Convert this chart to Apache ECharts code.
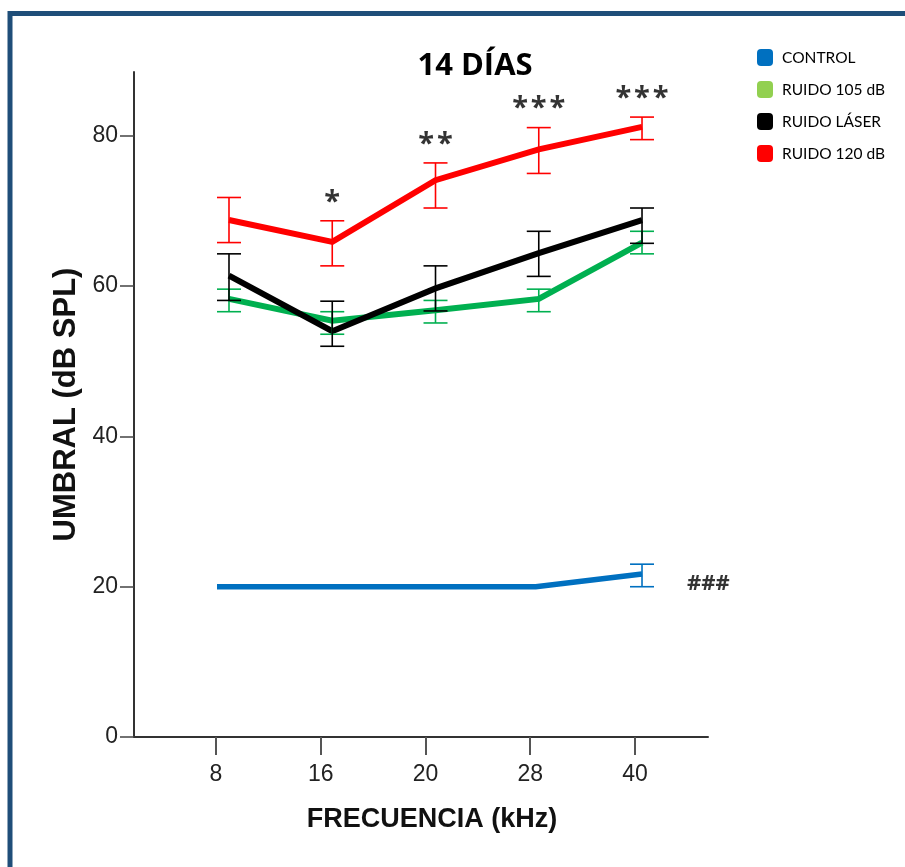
<!DOCTYPE html>
<html>
<head>
<meta charset="utf-8">
<script src="https://cdn.jsdelivr.net/npm/echarts@6/dist/echarts.min.js"></script>
<style>
html,body{margin:0;padding:0;background:#fff;}
#c{width:905px;height:867px;}
</style>
</head>
<body>
<div id="c"></div>
<script>
// ---- data ----
const freqs = ['8', '16', '20', '28', '40'];
const yTicks = [0, 20, 40, 60, 80];

const controlMean = [20.0, 20.0, 20.0, 20.0, 21.7];
const controlHi   = [null, null, null, null, 23.0];
const controlLo   = [null, null, null, null, 20.0];

const r105Mean = [58.3, 55.4, 56.8, 58.3, 65.8];
const r105Hi   = [59.6, 56.6, 58.1, 59.6, 67.3];
const r105Lo   = [56.6, 53.6, 55.1, 56.6, 64.3];

const laserMean = [61.4, 54.0, 59.7, 64.4, 68.8];
const laserHi   = [64.3, 58.0, 62.7, 67.3, 70.4];
const laserLo   = [58.1, 52.0, 56.7, 61.3, 65.7];

const r120Mean = [68.8, 65.9, 74.1, 78.2, 81.2];
const r120Hi   = [71.8, 68.7, 76.4, 81.1, 82.5];
const r120Lo   = [65.8, 62.7, 70.4, 75.0, 79.5];

const sigLabels = ['', '*', '**', '***', '***'];
const controlSig = ['', '', '', '', '###'];

const names = ['CONTROL', 'RUIDO 105 dB', 'RUIDO LÁSER', 'RUIDO 120 dB'];

// ---- build ----
const idx = freqs.map((f, i) => i);
const spaced = s => s.split('').join('\u200A');
function pts(arr) { return arr.map((v, i) => [i, v]); }
function errData(hi, lo) {
  const out = [];
  hi.forEach((h, i) => { if (h != null && lo[i] != null) out.push([i, lo[i], h]); });
  return out;
}
function errSeries(name, hi, lo, color, z, xi) {
  return {
    type: 'custom', name: name + '_err', z: z, xAxisIndex: xi,
    renderItem: function (params, api) {
      const x = api.value(0);
      const p1 = api.coord([x, api.value(1)]);
      const p2 = api.coord([x, api.value(2)]);
      const hw = 12;
      const st = { stroke: color, lineWidth: 1.6 };
      return { type: 'group', children: [
        { type: 'line', shape: { x1: p1[0], y1: p1[1], x2: p2[0], y2: p2[1] }, style: st },
        { type: 'line', shape: { x1: p1[0] - hw, y1: p1[1], x2: p1[0] + hw, y2: p1[1] }, style: st },
        { type: 'line', shape: { x1: p2[0] - hw, y1: p2[1], x2: p2[0] + hw, y2: p2[1] }, style: st }
      ]};
    },
    encode: { x: 0, y: [1, 2] },
    data: errData(hi, lo),
    silent: true
  };
}
function lineSeries(name, mean, lineColor, legendColor, width, z, xi) {
  return {
    type: 'line', name: name, data: pts(mean), z: z, xAxisIndex: xi,
    symbol: 'none', showSymbol: false,
    lineStyle: { color: lineColor, width: width, join: 'miter' },
    itemStyle: { color: legendColor },
    silent: true
  };
}
const hiddenX = (min, max) => ({ type: 'value', min: min, max: max, show: false,
  splitLine: { show: false } });

const chart = echarts.init(document.getElementById('c'));
const option = {
  backgroundColor: '#fff',
  animation: false,
  grid: { left: 134, right: 197, top: 72, bottom: 130, containLabel: false },
  legend: {
    orient: 'vertical', left: 752, top: 44,
    icon: 'roundRect', itemWidth: 16, itemHeight: 17, itemGap: 15,
    textStyle: { fontFamily: 'Lato', fontSize: 15.5, color: '#000', padding: [0, 0, 0, 4] },
    data: [
      { name: names[0], itemStyle: { color: '#0070C0' } },
      { name: names[1], itemStyle: { color: '#92D050' } },
      { name: names[2], itemStyle: { color: '#000000' } },
      { name: names[3], itemStyle: { color: '#FF0000' } }
    ],
    selectedMode: false
  },
  graphic: [
    { type: 'rect', z: -10, silent: true,
      shape: { x: 10, y: 13.5, width: 1000, height: 1000 },
      style: { fill: null, stroke: '#1F4E79', lineWidth: 5 } },
    { type: 'text', x: 475, y: 66, silent: true,
      style: { text: '14 DÍAS', fontFamily: 'Open Sans', fontWeight: 'bold', fontSize: 31,
        fill: '#000', align: 'center', verticalAlign: 'middle' } }
  ],
  xAxis: [{
    type: 'value', min: -0.783, max: 4.697,
    name: 'FRECUENCIA (kHz)', nameLocation: 'middle', nameGap: 69,
    nameTextStyle: { fontFamily: 'Liberation Sans', fontWeight: 'bold', fontSize: 27, color: '#111', padding: [0, 0, 0, 22] },
    splitLine: { show: false },
    axisLine: { onZero: false, lineStyle: { color: '#333', width: 2 } },
    axisTick: { show: true, length: 18, customValues: idx, lineStyle: { color: '#555', width: 2 } },
    axisLabel: { customValues: idx, formatter: v => freqs[Math.round(v)], margin: 26,
      fontFamily: 'Liberation Sans', fontSize: 23, color: '#222' }
  },
    // noise groups are drawn slightly right of the ticks in the reference
    hiddenX(-0.920, 4.639),
    // control group
    hiddenX(-0.781, 4.621)
  ],
  yAxis: {
    type: 'value', min: 0, max: 88.5,
    name: 'UMBRAL (dB SPL)', nameLocation: 'middle', nameGap: 50, nameRotate: 90,
    nameTextStyle: { fontFamily: 'Liberation Sans', fontWeight: 'bold', fontSize: 31, color: '#111' },
    splitLine: { show: false },
    axisLine: { onZero: false, lineStyle: { color: '#333', width: 2 } },
    axisTick: { show: true, length: 14, customValues: yTicks, lineStyle: { color: '#444', width: 1.5 } },
    axisLabel: { customValues: yTicks, margin: 16,
      fontFamily: 'Liberation Sans', fontSize: 23, color: '#222' }
  },
  series: [
    lineSeries(names[0], controlMean, '#0070C0', '#0070C0', 5.5, 3, 2),
    lineSeries(names[1], r105Mean, '#00B050', '#92D050', 6, 3, 1),
    lineSeries(names[2], laserMean, '#000000', '#000000', 6, 4, 1),
    lineSeries(names[3], r120Mean, '#FF0000', '#FF0000', 6, 4, 1),
    errSeries(names[0], controlHi, controlLo, '#0070C0', 5, 2),
    errSeries(names[1], r105Hi, r105Lo, '#00B050', 5, 1),
    errSeries(names[2], laserHi, laserLo, '#000000', 6, 1),
    errSeries(names[3], r120Hi, r120Lo, '#FF0000', 6, 1),
    {
      type: 'scatter', name: 'sig', symbolSize: 0, silent: true, z: 10, xAxisIndex: 1,
      data: r120Hi.map((h, i) => ({ value: [i, h], label: { formatter: spaced(sigLabels[i]) } })),
      label: { show: true, position: 'top', distance: 4, offset: [0, 0],
        fontFamily: 'Open Sans', fontWeight: 'bold', fontSize: 29, color: '#000' }
    },
    {
      type: 'scatter', name: 'sigC', symbolSize: 0, silent: true, z: 10, xAxisIndex: 2,
      data: controlMean.map((m, i) => ({ value: [i, m], label: { formatter: controlSig[i] } })),
      label: { show: true, position: 'right', distance: 45, offset: [0, 10],
        fontFamily: 'Open Sans', fontWeight: 'bold', fontSize: 22, color: '#000' }
    }
  ]
};
chart.setOption(option);
</script>
</body>
</html>
